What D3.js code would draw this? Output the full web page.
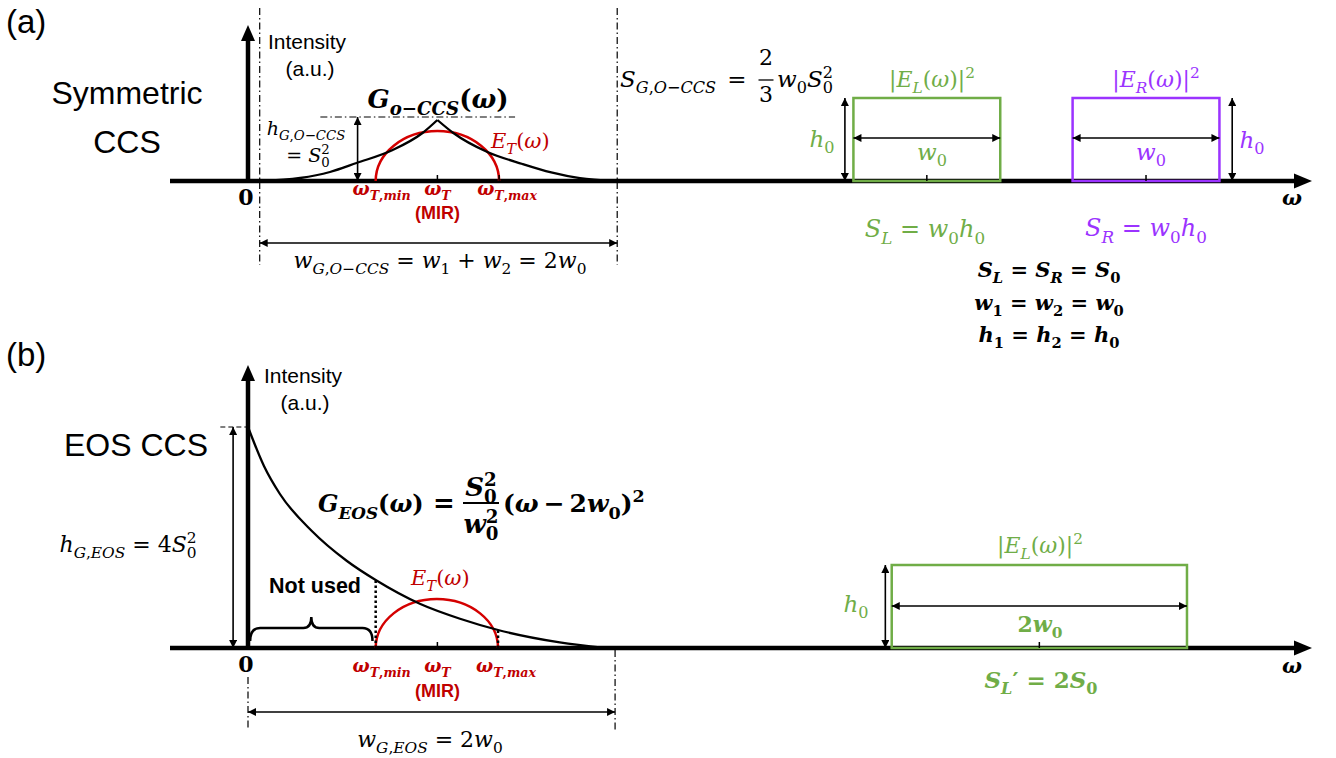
<!DOCTYPE html>
<html>
<head>
<meta charset="utf-8">
<script src="https://cdn.jsdelivr.net/npm/d3@7"></script>
<style>
  body { margin: 0; background: #fff; }
  svg { display: block; }
</style>
</head>
<body>
<svg id="fig" width="1336" height="758"></svg>
<script>
// ---------- data (ω in axis units 0..100, intensity in a.u.) ----------
// (a) symmetric CCS: G_o-CCS(ω), rising and falling branches (cusp at ω_T)
const gSymLeft  = [[1.1, 0], [4.9, 1.5], [7.7, 4.5], [10.2, 9], [13.6, 15.5], [16.4, 24], [17.8, 30.5]];
const gSymRight = [[17.8, 30.5], [19.3, 24], [22.5, 14.5], [25.8, 8.5], [28.5, 4.3], [31.2, 1.4], [34.4, 0]];
// (b) EOS CCS: G_EOS(ω)
const gEos = [[0, 110.5], [1.5, 91], [3.0, 77], [6.0, 58.5], [9.3, 43.5], [12.0, 34], [16.2, 22],
              [20.0, 14.5], [23.5, 9], [29.3, 2.8], [33.5, 0]];
// E_T(ω): [ω_T,min, ω_T, ω_T,max] and peak height
const etOmegaA = [12.0, 17.8, 23.6];
const etPeakA = 25;
const etOmegaB = [12.0, 17.8, 23.5];
const etPeakB = 24.5;
const etLabels = ["ω_{T,min}", "ω_{T}", "ω_{T,max}"];
// pump fields |E_L|^2, |E_R|^2: [ω start, ω end], height h0
const fieldL_A = [56.9, 70.7];
const fieldR_A = [77.5, 91.3];
const fieldL_B = [60.5, 88.25];
const fieldH = 41.5;
// G bandwidth span and peak levels
const gSpanA = [1.1, 34.7];
const gSpanB = [0, 34.5];
const gPeakA = 32;
const braceRange = [0.2, 11.7];

// ---------- scales ----------
const x  = d3.scaleLinear().domain([0, 100]).range([248, 1312]);
const yA = d3.scaleLinear().domain([0, 100]).range([181, -19]);
const yB = d3.scaleLinear().domain([0, 100]).range([648, 448]);

const GREEN = "#70ad47", PURPLE = "#9b33ff", RED = "#d40000", RED_T = "#c00000";
const MATH = "'DejaVu Serif', 'Liberation Serif', serif";
const SANS = "'Liberation Sans', Arial, sans-serif";

const svg = d3.select("#fig");
const defs = svg.append("defs");
function mk(id, color) {
  defs.append("marker").attr("id", id).attr("viewBox", "0 0 10 10")
    .attr("refX", 10).attr("refY", 5).attr("markerWidth", 10).attr("markerHeight", 8)
    .attr("markerUnits", "userSpaceOnUse").attr("orient", "auto-start-reverse")
    .append("path").attr("d", "M0,0 L10,5 L0,10 z").attr("fill", color);
}
mk("ah", "#000");

// ---------- math text helper (italic letters, sub/superscripts) ----------
function runsOf(t) {
  const out = [];
  for (const ch of t) {
    const it = /[A-Za-zα-ω]/.test(ch);
    if (out.length && out[out.length - 1].it === it) out[out.length - 1].t += ch;
    else out.push({ t: ch, it });
  }
  return out;
}
function parseMath(s) {
  const items = []; let i = 0, buf = "";
  while (i < s.length) {
    const c = s[i];
    if ((c === "_" || c === "^") && s[i + 1] === "{") {
      if (buf) { items.push({ base: buf }); buf = ""; }
      const end = s.indexOf("}", i + 2);
      const g = s.slice(i + 2, end);
      i = end + 1;
      const key = c === "_" ? "sub" : "sup";
      const last = items[items.length - 1];
      if (last && last.script && last[key] === undefined) last[key] = g;
      else items.push({ script: true, [key]: g });
    } else { buf += c; i++; }
  }
  if (buf) items.push({ base: buf });
  return items;
}
function math(parent, str, o) {
  const size = o.size || 20;
  const t = parent.append("text").attr("x", o.x).attr("y", o.y)
    .attr("text-anchor", o.anchor || "middle").attr("font-family", MATH)
    .attr("fill", o.fill || "#000").attr("font-weight", o.bold ? "bold" : "normal")
    .style("white-space", "pre");
  let shift = 0;
  const put = (txt, sz, target, dx) => {
    let w = 0;
    runsOf(txt).forEach((r, k) => {
      const ts = t.append("tspan").attr("font-size", sz)
        .attr("font-style", r.it ? "italic" : "normal").text(r.t);
      if (k === 0) { ts.attr("dy", target - shift); if (dx) ts.attr("dx", dx); }
      w += ts.node().getComputedTextLength();
    });
    shift = target;
    return w;
  };
  parseMath(str).forEach(it => {
    if (it.base !== undefined) put(it.base, size, 0);
    else {
      const ss = size * 0.7;
      let w = 0;
      if (it.sub !== undefined) w = put(it.sub, ss, size * 0.28);
      if (it.sup !== undefined) put(it.sup, ss, -size * 0.4, it.sub !== undefined ? -w : 0);
    }
  });
  return t;
}
function plain(parent, str, o) {
  return parent.append("text").attr("x", o.x).attr("y", o.y)
    .attr("text-anchor", o.anchor || "start").attr("font-family", o.family || SANS)
    .attr("font-size", o.size || 18).attr("font-weight", o.bold ? "bold" : "normal")
    .attr("fill", o.fill || "#000").text(str);
}
function arrow(p, x1, y1, x2, y2, both = true) {
  p.append("line").attr("x1", x1).attr("y1", y1).attr("x2", x2).attr("y2", y2)
    .attr("stroke", "#000").attr("stroke-width", 1.6)
    .attr("marker-end", "url(#ah)").attr("marker-start", both ? "url(#ah)" : null);
}
function dashDot(p, x1, y1, x2, y2) {
  p.append("line").attr("x1", x1).attr("y1", y1).attr("x2", x2).attr("y2", y2)
    .attr("stroke", "#000").attr("stroke-width", 1.2).attr("stroke-dasharray", "7,3,1.5,3");
}
function axes(p, y, top) {
  const y0 = y(0);
  p.append("line").attr("x1", 170).attr("x2", x(100) - 15).attr("y1", y0).attr("y2", y0)
    .attr("stroke", "#000").attr("stroke-width", 4.5);
  p.append("path").attr("d", `M${x(100)},${y0} L${x(100) - 18},${y0 - 7.5} L${x(100) - 18},${y0 + 7.5} Z`);
  p.append("line").attr("x1", x(0)).attr("x2", x(0)).attr("y1", y0 + 2).attr("y2", y(top) + 14)
    .attr("stroke", "#000").attr("stroke-width", 4.5);
  p.append("path").attr("d", `M${x(0)},${y(top)} L${x(0) - 7},${y(top) + 16} L${x(0) + 7},${y(top) + 16} Z`);
}
function field(p, y, range, color) {
  p.append("rect").attr("x", x(range[0])).attr("y", y(fieldH))
    .attr("width", x(range[1]) - x(range[0])).attr("height", y(0) - y(fieldH))
    .attr("fill", "none").attr("stroke", color).attr("stroke-width", 2.5);
  const c = x((range[0] + range[1]) / 2);
  p.append("line").attr("x1", c).attr("x2", c).attr("y1", y(0)).attr("y2", y(0) - 6)
    .attr("stroke", "#000").attr("stroke-width", 1.5);
}
function etArc(p, y, om, peak) {
  const rx = (x(om[2]) - x(om[0])) / 2, ry = y(0) - y(peak);
  p.append("path").attr("d", `M${x(om[0])},${y(0)} A${rx},${ry} 0 0 1 ${x(om[2])},${y(0)}`)
    .attr("fill", "none").attr("stroke", RED).attr("stroke-width", 2.5);
}
function tick(p, y, w) {
  p.append("line").attr("x1", x(w)).attr("x2", x(w)).attr("y1", y(0)).attr("y2", y(0) - 6)
    .attr("stroke", "#000").attr("stroke-width", 1.5);
}
const line = (y) => d3.line().x(d => x(d[0])).y(d => y(d[1])).curve(d3.curveMonotoneX);

// =================== (a) Symmetric CCS ===================
const A = svg.append("g");
plain(A, "(a)", { x: 6, y: 33, size: 33 });
plain(A, "Symmetric", { x: 127, y: 104, size: 32, anchor: "middle" });
plain(A, "CCS", { x: 127, y: 153, size: 32, anchor: "middle" });

dashDot(A, x(gSpanA[0]), 8, x(gSpanA[0]), 265);
dashDot(A, x(gSpanA[1]), 8, x(gSpanA[1]), 265);
dashDot(A, x(6.8), yA(gPeakA), x(25.1), yA(gPeakA));

axes(A, yA, 78);
plain(A, "Intensity", { x: 307, y: 49, size: 21, anchor: "middle" });
plain(A, "(a.u.)", { x: 310, y: 76, size: 21, anchor: "middle" });
plain(A, "0", { x: 246, y: 205, size: 22, anchor: "middle", bold: true, family: MATH });

// E_T and G_o-CCS
etArc(A, yA, etOmegaA, etPeakA);
A.append("path").attr("d", line(yA)(gSymLeft)).attr("fill", "none").attr("stroke", "#000").attr("stroke-width", 2.3);
A.append("path").attr("d", line(yA)(gSymRight)).attr("fill", "none").attr("stroke", "#000").attr("stroke-width", 2.3);
tick(A, yA, etOmegaA[1]);
tick(A, yA, etOmegaA[2]);

arrow(A, x(10.3), yA(0), x(10.3), yA(gPeakA));
math(A, "h_{G,O−CCS}", { x: 306, y: 135, size: 19 });
math(A, "= S_{0}^{2}", { x: 308, y: 162, size: 19 });
math(A, "G_{o−CCS}(ω)", { x: 438, y: 108, size: 26, bold: true });
math(A, "E_{T}(ω)", { x: 491, y: 148, size: 21, anchor: "start", fill: RED_T });

const offs = [6, 0, 8];
etLabels.forEach((s, i) => math(A, s, { x: x(etOmegaA[i]) + offs[i], y: 195, size: 18, bold: true, fill: RED_T }));
plain(A, "(MIR)", { x: x(etOmegaA[1]), y: 219, size: 18, anchor: "middle", bold: true, fill: RED_T });

arrow(A, x(gSpanA[0]), yA(-31), x(gSpanA[1]), yA(-31));
math(A, "w_{G,O−CCS} = w_{1} + w_{2} = 2w_{0}", { x: 440, y: 268, size: 22 });

// S_G,O-CCS = (2/3) w0 S0^2
{
  math(A, "S_{G,O−CCS}", { x: 620, y: 87, size: 23, anchor: "start" });
  math(A, "=", { x: 737, y: 87, size: 23 });
  const fx = 766, fw = 15;
  math(A, "2", { x: fx, y: 65, size: 22 });
  math(A, "3", { x: fx, y: 102, size: 22 });
  A.append("line").attr("x1", fx - fw / 2).attr("x2", fx + fw / 2).attr("y1", 80).attr("y2", 80).attr("stroke", "#000").attr("stroke-width", 1.3);
  math(A, "w_{0}S_{0}^{2}", { x: 777, y: 87, size: 23, anchor: "start" });
}

// pump fields
field(A, yA, fieldL_A, GREEN);
field(A, yA, fieldR_A, PURPLE);
arrow(A, x(56.1), yA(0), x(56.1), yA(fieldH));
arrow(A, x(92.5), yA(0), x(92.5), yA(fieldH));
arrow(A, x(fieldL_A[0]), yA(21.5), x(fieldL_A[1]), yA(21.5));
arrow(A, x(fieldR_A[0]), yA(21.5), x(fieldR_A[1]), yA(21.5));
math(A, "|E_{L}(ω)|^{2}", { x: 932, y: 87, size: 22, fill: GREEN });
math(A, "|E_{R}(ω)|^{2}", { x: 1156, y: 87, size: 22, fill: PURPLE });
math(A, "h_{0}", { x: 822, y: 147, size: 23, fill: GREEN });
math(A, "h_{0}", { x: 1252, y: 148, size: 23, fill: PURPLE });
math(A, "w_{0}", { x: 932, y: 160, size: 23, fill: GREEN });
math(A, "w_{0}", { x: 1151, y: 160, size: 23, fill: PURPLE });
math(A, "S_{L} = w_{0}h_{0}", { x: 925, y: 237, size: 24, fill: GREEN });
math(A, "S_{R} = w_{0}h_{0}", { x: 1146, y: 236, size: 24, fill: PURPLE });
math(A, "ω", { x: 1292, y: 205, size: 21, bold: true });
math(A, "S_{L} = S_{R} = S_{0}", { x: 1049, y: 277, size: 21, bold: true });
math(A, "w_{1} = w_{2} = w_{0}", { x: 1049, y: 310, size: 21, bold: true });
math(A, "h_{1} = h_{2} = h_{0}", { x: 1049, y: 342, size: 21, bold: true });

// =================== (b) EOS CCS ===================
const B = svg.append("g");
plain(B, "(b)", { x: 6, y: 366, size: 33 });
plain(B, "EOS CCS", { x: 136, y: 456, size: 32, anchor: "middle" });

dashDot(B, x(gSpanB[0]), yB(-14.5), x(gSpanB[0]), yB(-41));
dashDot(B, x(gSpanB[1]), yB(-1), x(gSpanB[1]), yB(-41));
B.append("line").attr("x1", x(-2.6)).attr("x2", x(0)).attr("y1", yB(gEos[0][1])).attr("y2", yB(gEos[0][1]))
  .attr("stroke", "#000").attr("stroke-width", 1.2).attr("stroke-dasharray", "5,3");

axes(B, yB, 141.5);
plain(B, "Intensity", { x: 303, y: 383, size: 21, anchor: "middle" });
plain(B, "(a.u.)", { x: 305, y: 410, size: 21, anchor: "middle" });
plain(B, "0", { x: 246, y: 672, size: 22, anchor: "middle", bold: true, family: MATH });

arrow(B, x(-1.4), yB(0), x(-1.4), yB(gEos[0][1]));
math(B, "h_{G,EOS} = 4S_{0}^{2}", { x: 128, y: 552, size: 22 });

etArc(B, yB, etOmegaB, etPeakB);
B.append("path").attr("d", line(yB)(gEos)).attr("fill", "none").attr("stroke", "#000").attr("stroke-width", 2.3);
tick(B, yB, etOmegaB[1]);
// unused part of the spectrum below ω_T,min
B.append("line").attr("x1", x(etOmegaB[0])).attr("x2", x(etOmegaB[0])).attr("y1", yB(0)).attr("y2", yB(34))
  .attr("stroke", "#000").attr("stroke-width", 2.5).attr("stroke-dasharray", "2.5,2.5");
B.append("line").attr("x1", x(etOmegaB[2])).attr("x2", x(etOmegaB[2])).attr("y1", yB(0)).attr("y2", yB(9.5))
  .attr("stroke", "#000").attr("stroke-width", 2.5).attr("stroke-dasharray", "2.5,2.5");
{
  const xl = x(braceRange[0]), xr = x(braceRange[1]), xm = (xl + xr) / 2, y0 = yB(0);
  B.append("path").attr("d",
    `M${xl},${y0 - 7} Q${xl},${y0 - 20} ${xl + 10},${y0 - 20} L${xm - 8},${y0 - 20} Q${xm},${y0 - 20} ${xm},${y0 - 31}` +
    ` Q${xm},${y0 - 20} ${xm + 8},${y0 - 20} L${xr - 10},${y0 - 20} Q${xr},${y0 - 20} ${xr},${y0 - 7}`)
    .attr("fill", "none").attr("stroke", "#000").attr("stroke-width", 2.5);
}
plain(B, "Not used", { x: 269, y: 593, size: 21.5, bold: true });
math(B, "E_{T}(ω)", { x: 411, y: 585, size: 21, anchor: "start", fill: RED_T });
etLabels.forEach((s, i) => math(B, s, { x: x(etOmegaB[i]) + offs[i], y: 672, size: 18, bold: true, fill: RED_T }));
plain(B, "(MIR)", { x: x(etOmegaB[1]), y: 697, size: 18, anchor: "middle", bold: true, fill: RED_T });

// G_EOS(ω) = S0^2 / w0^2 (ω − 2w0)^2
{
  math(B, "G_{EOS}(ω)", { x: 318, y: 512, size: 24, bold: true, anchor: "start" });
  math(B, "=", { x: 444, y: 512, size: 26, bold: true });
  const fx = 481, fw = 36;
  math(B, "S_{0}^{2}", { x: fx, y: 496, size: 26, bold: true });
  math(B, "w_{0}^{2}", { x: fx, y: 533, size: 26, bold: true });
  B.append("line").attr("x1", fx - fw / 2).attr("x2", fx + fw / 2).attr("y1", 503).attr("y2", 503).attr("stroke", "#000").attr("stroke-width", 1.8);
  math(B, "(ω\u2009−\u20092w_{0})^{2}", { x: 503, y: 512, size: 25, bold: true, anchor: "start" });
}

arrow(B, x(gSpanB[0]), yB(-32), x(gSpanB[1]), yB(-32));
math(B, "w_{G,EOS} = 2w_{0}", { x: 430, y: 747, size: 22 });

field(B, yB, fieldL_B, GREEN);
arrow(B, x(59.9), yB(0), x(59.9), yB(fieldH));
arrow(B, x(fieldL_B[0]), yB(21), x(fieldL_B[1]), yB(21));
math(B, "|E_{L}(ω)|^{2}", { x: 1040, y: 553, size: 22, fill: GREEN });
math(B, "h_{0}", { x: 856, y: 612, size: 23, fill: GREEN });
math(B, "2w_{0}", { x: 1040, y: 632, size: 22, bold: true, fill: GREEN });
math(B, "S_{L}′ = 2S_{0}", { x: 1041, y: 688, size: 23, bold: true, fill: GREEN });
math(B, "ω", { x: 1292, y: 673, size: 21, bold: true });
</script>
</body>
</html>
